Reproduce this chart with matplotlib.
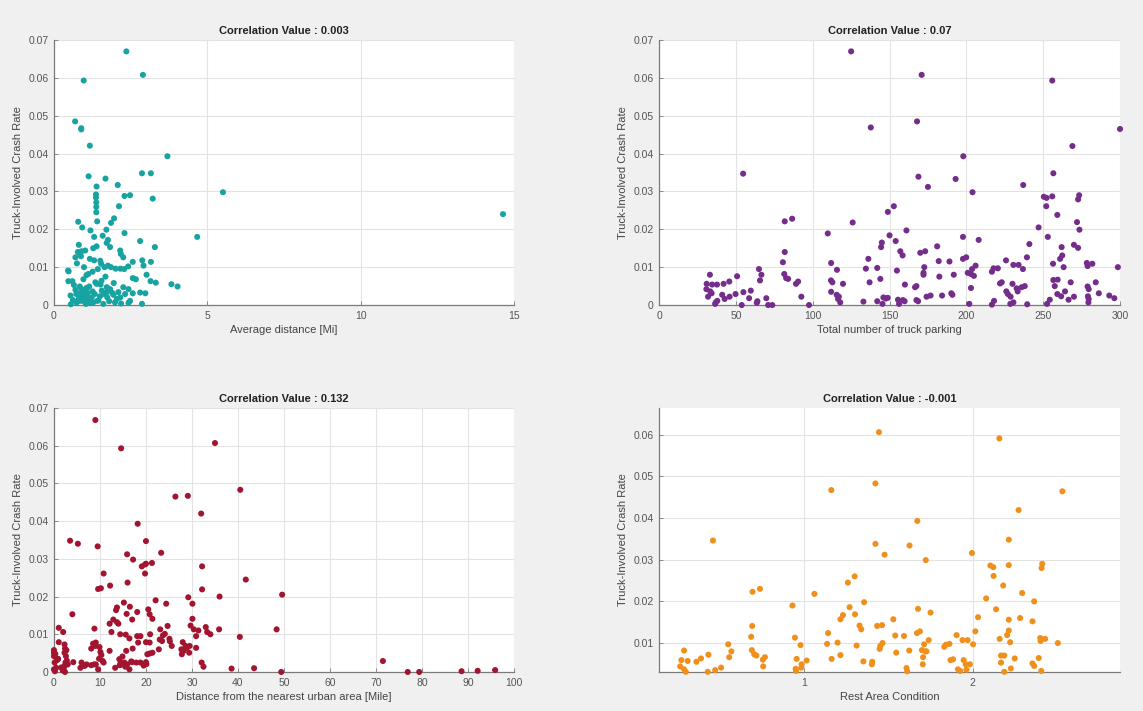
import numpy as np
import matplotlib
matplotlib.use("Agg")
import matplotlib.pyplot as plt
from matplotlib.ticker import FuncFormatter

plt.rcParams['font.family'] = ['Liberation Sans', 'DejaVu Sans']

# --- panel 1: average distance [Mi] vs crash rate
avg_dist = [2.36, 2.90, 0.97, 0.69, 0.89, 0.89, 1.17, 3.70, 1.13, 1.68, 2.87, 3.16, 1.39, 2.08,
            2.30, 2.48, 1.37, 1.37, 3.22, 5.51, 1.38, 1.38, 2.12, 1.38, 1.96, 0.79, 1.41, 1.86,
            0.92, 1.71, 1.19, 2.30, 4.67, 3.29, 2.81, 0.81, 1.59, 1.76, 1.72, 1.31, 1.28, 1.39,
            1.83, 0.78, 0.90, 1.02, 0.70, 0.88, 2.16, 2.18, 2.26, 1.17, 1.31, 1.51, 1.54, 0.75,
            2.57, 2.88, 3.16, 2.92, 0.98, 0.46, 0.48, 1.65, 1.76, 1.86, 2.01, 2.17, 2.29, 2.42,
            1.43, 1.26, 1.12, 1.06, 3.02, 1.68, 0.96, 0.47, 0.60, 2.57, 2.67, 3.15, 3.32, 3.83,
            4.03, 1.39, 1.52, 0.65, 0.84, 1.07, 1.15, 1.72, 1.83, 2.26, 2.43, 2.81, 2.98, 2.57,
            0.54, 0.73, 0.88, 1.01, 0.84, 0.95, 1.06, 1.23, 1.33, 1.50, 1.63, 1.74, 1.94, 2.05,
            2.16, 2.32, 2.48, 0.55, 0.73, 0.90, 1.04, 1.12, 1.28, 1.41, 1.61, 1.99, 2.19, 2.43,
            2.87, 0.81, 0.97, 1.15, 1.26, 1.56, 1.72, 1.90, 2.10, 1.06, 0.90, 14.64,
            0.62, 0.78, 1.00, 1.20, 1.45, 1.80, 0.70, 0.92, 1.10, 1.35, 1.55, 1.95]
rate1 = [0.0670, 0.0608, 0.0593, 0.0485, 0.0467, 0.0464, 0.0421, 0.0393, 0.0340, 0.0334, 0.0348,
         0.0348, 0.0313, 0.0317, 0.0288, 0.0290, 0.0292, 0.0284, 0.0281, 0.0298, 0.0271, 0.0259,
         0.0261, 0.0245, 0.0229, 0.0220, 0.0221, 0.0217, 0.0205, 0.0199, 0.0197, 0.0190, 0.0180,
         0.0153, 0.0169, 0.0159, 0.0183, 0.0172, 0.0164, 0.0180, 0.0150, 0.0155, 0.0153, 0.0140,
         0.0142, 0.0144, 0.0126, 0.0129, 0.0144, 0.0135, 0.0126, 0.0122, 0.0118, 0.0117, 0.0109,
         0.0110, 0.0114, 0.0118, 0.0114, 0.0104, 0.0100, 0.0091, 0.0089, 0.0100, 0.0104, 0.0100,
         0.0096, 0.0096, 0.0095, 0.0102, 0.0095, 0.0088, 0.0082, 0.0079, 0.0080, 0.0075, 0.0068,
         0.0063, 0.0063, 0.0071, 0.0068, 0.0063, 0.0059, 0.0055, 0.0049, 0.0056, 0.0054, 0.0053,
         0.0049, 0.0043, 0.0049, 0.0047, 0.0042, 0.0047, 0.0042, 0.0033, 0.0031, 0.0031, 0.0025,
         0.0029, 0.0034, 0.0038, 0.0018, 0.0020, 0.0025, 0.0020, 0.0029, 0.0023, 0.0029, 0.0020,
         0.0027, 0.0016, 0.0020, 0.0029, 0.0011, 0.0002, 0.0007, 0.0011, 0.0003, 0.0009, 0.0007,
         0.0011, 0.0003, 0.0007, 0.0004, 0.0006, 0.0003, 0.0016, 0.0029, 0.0016, 0.0036, 0.0038,
         0.0034, 0.0032, 0.0034, 0.0045, 0.0042, 0.0240,
         0.0013, 0.0009, 0.0014, 0.0005, 0.0012, 0.0010, 0.0040, 0.0024, 0.0031, 0.0060, 0.0064, 0.0058]

# --- panel 2: total number of truck parking vs crash rate
parking = [125.0, 170.9, 255.9, 167.9, 137.8, 300.0, 269.0, 198.0, 54.7, 168.8, 256.6, 193.0,
           175.0, 237.0, 204.0, 250.4, 252.2, 255.9, 273.4, 272.7, 252.0, 152.8, 148.9, 259.2,
           81.8, 86.6, 126.0, 272.0, 247.0, 109.8, 161.0, 273.6, 150.0, 197.8, 253.0, 154.0,
           208.0, 145.0, 144.5, 181.0, 241.0, 270.0, 272.7, 262.0, 157.0, 158.5, 173.2, 170.0,
           81.8, 197.8, 199.9, 261.0, 262.4, 239.4, 136.2, 80.6, 112.0, 182.0, 189.0, 225.8,
           256.4, 278.4, 278.9, 282.0, 115.8, 134.6, 142.0, 154.8, 172.6, 172.1, 172.1, 206.0,
           203.7, 203.0, 200.9, 204.9, 217.7, 216.6, 220.5, 230.6, 234.0, 236.8, 263.3, 298.6,
           65.0, 33.1, 81.5, 82.7, 84.0, 66.6, 65.7, 45.7, 50.8, 31.0, 34.5, 37.7, 42.0, 90.5,
           89.1, 119.7, 111.9, 112.8, 137.0, 144.0, 182.4, 191.8, 230.0, 232.7, 233.4, 221.9,
           223.0, 238.0, 236.0, 267.9, 284.2, 257.5, 259.4, 256.6, 278.9, 279.6, 203.0, 160.0,
           166.6, 167.5, 226.0, 227.0, 228.8, 259.2, 261.7, 264.2, 266.5, 270.0, 279.1, 279.6,
           279.4, 286.2, 293.0, 296.3, 254.3, 252.5, 239.6, 230.6, 228.6, 218.0, 216.6, 201.9,
           184.2, 190.2, 190.9, 176.7, 174.1, 167.5, 168.6, 158.7, 159.8, 155.5, 156.2, 146.0,
           147.6, 148.8, 142.0, 133.0, 145.4, 116.5, 117.9, 117.0, 115.6, 112.0, 92.6, 97.6,
           69.8, 73.7, 71.0, 64.0, 63.6, 59.7, 58.6, 53.8, 54.9, 49.8, 45.9, 42.7, 41.1, 36.9,
           37.9, 36.5, 34.2, 31.9, 30.8, 33.3]
rate2 = [0.0670, 0.0608, 0.0593, 0.0485, 0.0469, 0.0465, 0.0420, 0.0393, 0.0347, 0.0339, 0.0348,
         0.0333, 0.0312, 0.0317, 0.0298, 0.0286, 0.0283, 0.0287, 0.0290, 0.0279, 0.0261, 0.0261,
         0.0246, 0.0238, 0.0221, 0.0228, 0.0218, 0.0219, 0.0205, 0.0189, 0.0197, 0.0199, 0.0184,
         0.0180, 0.0180, 0.0169, 0.0172, 0.0165, 0.0153, 0.0155, 0.0161, 0.0159, 0.0151, 0.0153,
         0.0142, 0.0131, 0.0142, 0.0138, 0.0140, 0.0122, 0.0126, 0.0122, 0.0131, 0.0126, 0.0122,
         0.0113, 0.0111, 0.0116, 0.0115, 0.0118, 0.0109, 0.0111, 0.0103, 0.0109, 0.0093, 0.0096,
         0.0098, 0.0091, 0.0100, 0.0085, 0.0080, 0.0104, 0.0095, 0.0082, 0.0085, 0.0077, 0.0097,
         0.0088, 0.0097, 0.0106, 0.0106, 0.0095, 0.0100, 0.0100, 0.0095, 0.0080, 0.0082, 0.0071,
         0.0069, 0.0080, 0.0065, 0.0062, 0.0076, 0.0056, 0.0054, 0.0054, 0.0056, 0.0062, 0.0056,
         0.0056, 0.0065, 0.0060, 0.0060, 0.0069, 0.0075, 0.0080, 0.0056, 0.0044, 0.0036, 0.0057,
         0.0060, 0.0050, 0.0047, 0.0060, 0.0060, 0.0050, 0.0067, 0.0066, 0.0049, 0.0042, 0.0045,
         0.0054, 0.0047, 0.0050, 0.0036, 0.0029, 0.0022, 0.0029, 0.0023, 0.0036, 0.0014, 0.0022,
         0.0023, 0.0016, 0.0007, 0.0031, 0.0025, 0.0018, 0.0014, 0.0003, 0.0002, 0.0007, 0.0003,
         0.0011, 0.0001, 0.0003, 0.0025, 0.0031, 0.0027, 0.0025, 0.0022, 0.0013, 0.0010, 0.0013,
         0.0010, 0.0014, 0.0003, 0.0020, 0.0017, 0.0019, 0.0010, 0.0009, 0.0003, 0.0016, 0.0007,
         0.0022, 0.0027, 0.0035, 0.0022, 0.0000, 0.0018, 0.0000, 0.0000, 0.0010, 0.0006, 0.0038,
         0.0018, 0.0000, 0.0034, 0.0029, 0.0022, 0.0016, 0.0027, 0.0007, 0.0011, 0.0003, 0.0031,
         0.0022, 0.0042, 0.0036]

# --- panel 3: distance from the nearest urban area [Mile] vs crash rate
urban_dist = [9.0, 14.6, 35.0, 40.5, 26.4, 29.1, 32.0, 18.2, 3.5, 5.2, 9.5, 20.0, 23.3, 15.9, 17.2,
              19.1, 19.8, 20.0, 21.3, 19.8, 32.2, 10.8, 41.7, 16.0, 12.2, 9.6, 10.2, 32.2, 22.1,
              29.2, 30.1, 36.0, 49.6, 15.2, 24.4, 18.1, 16.5, 15.8, 13.7, 13.5, 4.0, 20.5, 20.8,
              21.4, 30.1, 17.0, 12.9, 13.7, 14.0, 12.1, 24.7, 29.7, 30.4, 23.1, 8.8, 1.05, 33.0,
              33.3, 34.0, 35.9, 48.4, 31.4, 30.9, 40.4, 12.5, 2.0, 14.4, 15.6, 18.1, 18.8, 20.9,
              23.7, 24.1, 23.5, 25.1, 25.2, 25.6, 16.4, 1.05, 8.5, 9.1, 9.0, 8.1, 9.9, 10.1, 12.1,
              0.0, 0.0, 0.0, 0.75, 2.3, 2.4, 2.3, 2.6, 2.5, 2.3, 2.1, 2.4, 0.15, 0.5, 0.0, 4.2,
              6.0, 6.65, 5.75, 7.1, 6.3, 8.1, 8.7, 9.6, 9.1, 10.6, 10.8, 13.3, 14.2, 14.5, 14.3,
              14.7, 15.3, 15.5, 15.9, 16.4, 15.7, 17.0, 17.9, 18.8, 17.1, 18.3, 20.0, 20.1, 20.0,
              20.8, 20.3, 20.8, 21.4, 22.8, 23.0, 27.7, 28.2, 28.9, 29.5, 28.6, 27.8, 28.0, 29.4,
              32.1, 32.5, 30.9, 38.6, 43.5, 49.4, 71.5, 76.9, 79.4, 88.6, 92.1, 95.9,
              0.3, 0.9, 1.6, 2.8, 3.0, 9.8, 10.3, 14.9, 16.8, 19.5, 0.2, 1.9, 2.7]
rate3 = [0.0668, 0.0593, 0.0607, 0.0483, 0.0465, 0.0467, 0.0420, 0.0393, 0.0348, 0.0340, 0.0333,
         0.0347, 0.0316, 0.0312, 0.0298, 0.0280, 0.0285, 0.0287, 0.0289, 0.0261, 0.0280, 0.0261,
         0.0245, 0.0237, 0.0229, 0.0220, 0.0222, 0.0219, 0.0190, 0.0198, 0.0181, 0.0200, 0.0205,
         0.0184, 0.0181, 0.0159, 0.0173, 0.0154, 0.0171, 0.0164, 0.0153, 0.0166, 0.0153, 0.0141,
         0.0141, 0.0139, 0.0139, 0.0132, 0.0128, 0.0128, 0.0122, 0.0123, 0.0113, 0.0113, 0.0115,
         0.0117, 0.0119, 0.0106, 0.0100, 0.0113, 0.0113, 0.0110, 0.0095, 0.0093, 0.0106, 0.0106,
         0.0100, 0.0099, 0.0095, 0.0095, 0.0100, 0.0097, 0.0101, 0.0082, 0.0088, 0.0081, 0.0069,
         0.0089, 0.0079, 0.0075, 0.0078, 0.0069, 0.0062, 0.0066, 0.0053, 0.0056, 0.0058, 0.0051,
         0.0042, 0.0032, 0.0073, 0.0062, 0.0051, 0.0042, 0.0025, 0.0016, 0.0007, 0.0000, 0.0025,
         0.0011, 0.0007, 0.0026, 0.0025, 0.0016, 0.0011, 0.0020, 0.0018, 0.0018, 0.0020, 0.0007,
         0.0020, 0.0029, 0.0025, 0.0011, 0.0034, 0.0025, 0.0018, 0.0020, 0.0025, 0.0014, 0.0020,
         0.0007, 0.0056, 0.0026, 0.0025, 0.0025, 0.0062, 0.0078, 0.0026, 0.0021, 0.0079, 0.0078,
         0.0047, 0.0049, 0.0051, 0.0060, 0.0086, 0.0060, 0.0056, 0.0064, 0.0069, 0.0069, 0.0047,
         0.0079, 0.0051, 0.0025, 0.0014, 0.0064, 0.0009, 0.0010, 0.0000, 0.0029, 0.0000, 0.0000,
         0.0002, 0.0003, 0.0005,
         0.0048, 0.0035, 0.0012, 0.0030, 0.0020, 0.0035, 0.0045, 0.0041, 0.0028, 0.0017, 0.0002,
         0.0004, 0.0058]

# --- panel 4: rest area condition (jittered) vs crash rate
condition = [0.463, 0.697, 0.741, 0.695, 0.689, 0.693, 0.707, 0.720, 0.770, 0.758, 0.760, 0.553,
             0.559, 0.572, 0.292, 0.276, 0.269, 0.313, 0.292, 0.302, 0.365, 0.392, 0.436, 0.432,
             0.476, 0.511, 0.933, 0.948, 0.981, 0.958, 0.987, 0.952, 0.985, 0.954, 1.017, 1.063,
             1.163, 1.144, 1.138, 1.165, 1.200, 1.217, 1.217, 1.232, 1.261, 1.271, 1.301, 1.303,
             1.330, 1.340, 1.357, 1.313, 1.353, 1.403, 1.405, 1.424, 1.445, 1.424, 1.478, 1.434,
             1.463, 1.449, 1.453, 1.466, 1.530, 1.541, 1.547, 1.593, 1.608, 1.612, 1.626, 1.624,
             1.672, 1.676, 1.670, 1.687, 1.722, 1.699, 1.720, 1.712, 1.706, 1.704, 1.739, 1.750,
             1.726, 1.831, 1.841, 1.862, 1.904, 1.868, 1.883, 1.912, 1.925, 1.939, 1.969, 1.946,
             1.958, 1.983, 1.962, 1.995, 2.002, 2.015, 2.031, 2.079, 2.104, 2.121, 2.123, 2.157,
             2.138, 2.159, 2.167, 2.167, 2.186, 2.186, 2.180, 2.213, 2.213, 2.213, 2.213, 2.203,
             2.221, 2.225, 2.248, 2.271, 2.280, 2.292, 2.353, 2.363, 2.353, 2.363, 2.390, 2.407,
             2.411, 2.399, 2.401, 2.428, 2.405, 2.503, 2.530]
rate4 = [0.0346, 0.0223, 0.0230, 0.0141, 0.0115, 0.0083, 0.0073, 0.0070, 0.0066, 0.0060, 0.0044,
         0.0097, 0.0066, 0.0080, 0.0082, 0.0059, 0.0044, 0.0057, 0.0037, 0.0031, 0.0055, 0.0063,
         0.0072, 0.0031, 0.0035, 0.0041, 0.0190, 0.0113, 0.0095, 0.0062, 0.0049, 0.0038, 0.0041,
         0.0033, 0.0058, 0.0218, 0.0467, 0.0124, 0.0098, 0.0062, 0.0101, 0.0071, 0.0157, 0.0167,
         0.0245, 0.0186, 0.0260, 0.0169, 0.0142, 0.0133, 0.0198, 0.0094, 0.0056, 0.0049, 0.0055,
         0.0483, 0.0606, 0.0338, 0.0312, 0.0141, 0.0143, 0.0086, 0.0093, 0.0100, 0.0157, 0.0118,
         0.0077, 0.0117, 0.0040, 0.0032, 0.0334, 0.0082, 0.0393, 0.0182, 0.0124, 0.0128, 0.0299,
         0.0083, 0.0080, 0.0097, 0.0066, 0.0049, 0.0107, 0.0173, 0.0080, 0.0091, 0.0096, 0.0098,
         0.0119, 0.0059, 0.0061, 0.0037, 0.0033, 0.0107, 0.0107, 0.0059, 0.0049, 0.0049, 0.0036,
         0.0316, 0.0097, 0.0128, 0.0162, 0.0207, 0.0286, 0.0282, 0.0261, 0.0591, 0.0181, 0.0110,
         0.0070, 0.0053, 0.0070, 0.0031, 0.0238, 0.0348, 0.0287, 0.0156, 0.0130, 0.0119, 0.0102,
         0.0039, 0.0063, 0.0419, 0.0160, 0.0220, 0.0152, 0.0200, 0.0051, 0.0045, 0.0064, 0.0280,
         0.0290, 0.0112, 0.0105, 0.0110, 0.0033, 0.0100, 0.0464]

titles = ["Correlation Value : 0.003", "Correlation Value : 0.07",
          "Correlation Value : 0.132", "Correlation Value : -0.001"]
xlabels = ["Average distance [Mi]", "Total number of truck parking",
           "Distance from the nearest urban area [Mile]", "Rest Area Condition"]
ylabel = "Truck-Involved Crash Rate"
colors = ['#17a3a1', '#742d8a', '#a2142f', '#f0901c']

fig = plt.figure(figsize=(11.43, 7.11), dpi=100)
fig.patch.set_facecolor('#f0f0f0')

boxes = [[0.0472, 0.571, 0.4025, 0.3727],
         [0.5766, 0.571, 0.4033, 0.3727],
         [0.0472, 0.0549, 0.4025, 0.3713],
         [0.5766, 0.0549, 0.4033, 0.3713]]
xs = [avg_dist, parking, urban_dist, condition]
ys = [rate1, rate2, rate3, rate4]
xlims = [(0, 15), (0, 300), (0, 100), (0.144, 2.871)]
ylims = [(0, 0.07), (0, 0.07), (0, 0.07), (0.00306, 0.0664)]
xticks = [[0, 5, 10, 15], np.arange(0, 301, 50), np.arange(0, 101, 10), [1, 2]]
yticks = [np.arange(0, 0.071, 0.01)] * 3 + [np.arange(0.01, 0.061, 0.01)]

fmt = FuncFormatter(lambda v, p: "0" if abs(v) < 1e-9 else f"{v:.2f}".rstrip('0'))

for i in range(4):
    ax = fig.add_axes(boxes[i])
    ax.set_xlim(*xlims[i])
    ax.set_ylim(*ylims[i])
    # points outside the ylim (panel 4) are dropped, edge points are not clipped
    xv = np.array(xs[i])
    yv = np.array(ys[i])
    keep = (yv >= ylims[i][0]) & (yv <= ylims[i][1])
    ax.scatter(xv[keep], yv[keep], s=19, color=colors[i], edgecolors='none',
               zorder=3, clip_on=False)
    ax.set_xticks(xticks[i])
    ax.set_yticks(yticks[i])
    ax.yaxis.set_major_formatter(fmt)
    ax.grid(True, color='#e3e3e3', linewidth=0.8, zorder=0)
    ax.set_axisbelow(True)
    for side in ['top', 'right']:
        ax.spines[side].set_visible(False)
    for side in ['left', 'bottom']:
        ax.spines[side].set_color('#7a7a7a')
        ax.spines[side].set_linewidth(0.9)
    ax.tick_params(direction='in', length=3, width=0.6, colors='#7a7a7a',
                   labelcolor='#555555', labelsize=7.5, pad=4)
    ax.set_title(titles[i], fontsize=8, fontweight='bold', color='#222222', pad=4)
    ax.set_xlabel(xlabels[i], fontsize=8, color='#444444', labelpad=3)
    ax.set_ylabel(ylabel, fontsize=8, color='#444444', labelpad=4)

fig.savefig("out.png", dpi=100, facecolor=fig.get_facecolor())
